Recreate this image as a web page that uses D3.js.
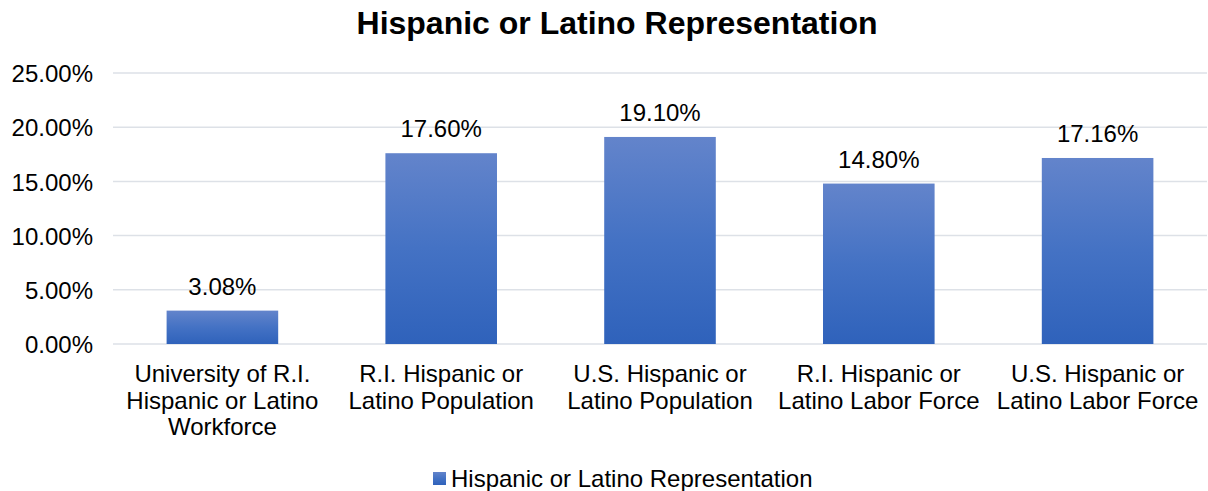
<!DOCTYPE html>
<html>
<head>
<meta charset="utf-8">
<script src="https://cdn.jsdelivr.net/npm/d3@7"></script>
<style>
  body { margin: 0; background: #fff; }
  svg { font-family: "Liberation Sans", Arial, sans-serif; }
</style>
</head>
<body>
<div id="chart"></div>
<script>
// chart data
var categories = [
  ["University of R.I.", "Hispanic or Latino", "Workforce"],
  ["R.I. Hispanic or", "Latino Population"],
  ["U.S. Hispanic or", "Latino Population"],
  ["R.I. Hispanic or", "Latino Labor Force"],
  ["U.S. Hispanic or", "Latino Labor Force"]
];
var values = [3.08, 17.60, 19.10, 14.80, 17.16];
var yTicks = [0, 5, 10, 15, 20, 25];
var seriesName = "Hispanic or Latino Representation";
var title = "Hispanic or Latino Representation";

var w = 1208, h = 491;
var margin = {top: 73, right: 1, bottom: 147, left: 113};
var fs = 24;

var svg = d3.select("#chart").append("svg")
  .attr("width", w)
  .attr("height", h);

var defs = svg.append("defs");
var grad = defs.append("linearGradient")
  .attr("id", "barGrad")
  .attr("x1", 0).attr("y1", 0).attr("x2", 0).attr("y2", 1);
grad.append("stop").attr("offset", "0%").attr("stop-color", "#6384cb");
grad.append("stop").attr("offset", "50%").attr("stop-color", "#4472c4");
grad.append("stop").attr("offset", "100%").attr("stop-color", "#2f62bb");

var x = d3.scaleBand()
  .domain(d3.range(values.length))
  .range([margin.left, w - margin.right])
  .paddingInner(0.49)
  .paddingOuter(0.245);

var y = d3.scaleLinear()
  .domain([0, 25])
  .range([h - margin.bottom, margin.top]);

// title
svg.append("text")
  .attr("x", 617)
  .attr("y", 34)
  .attr("text-anchor", "middle")
  .attr("font-size", 32)
  .attr("font-weight", "bold")
  .attr("fill", "#000")
  .text(title);

// gridlines
svg.append("g")
  .selectAll("line")
  .data(yTicks)
  .enter().append("line")
  .attr("x1", margin.left)
  .attr("x2", w - margin.right)
  .attr("y1", function(d) { return y(d); })
  .attr("y2", function(d) { return y(d); })
  .attr("stroke", "#dde1e7")
  .attr("stroke-width", 1.5);

// y axis labels
var yAxis = d3.axisLeft(y)
  .tickValues(yTicks)
  .tickSize(0)
  .tickPadding(0)
  .tickFormat(function(d) { return d.toFixed(2) + "%"; });

var yg = svg.append("g")
  .attr("transform", "translate(" + 93 + ",0)")
  .call(yAxis);
yg.select(".domain").remove();
yg.selectAll("text")
  .attr("font-size", fs)
  .attr("font-family", "Liberation Sans, Arial, sans-serif")
  .attr("fill", "#000")
  .attr("dy", "0.36em");

// bars
svg.append("g")
  .selectAll("rect")
  .data(values)
  .enter().append("rect")
  .attr("x", function(d, i) { return x(i); })
  .attr("width", x.bandwidth())
  .attr("y", function(d) { return y(d); })
  .attr("height", function(d) { return y(0) - y(d); })
  .attr("fill", "url(#barGrad)");

// data labels
svg.append("g")
  .selectAll("text")
  .data(values)
  .enter().append("text")
  .attr("x", function(d, i) { return x(i) + x.bandwidth() / 2; })
  .attr("y", function(d) { return y(d) - 16; })
  .attr("text-anchor", "middle")
  .attr("font-size", fs)
  .attr("fill", "#000")
  .text(function(d) { return d.toFixed(2) + "%"; });

// category labels
var cat = svg.append("g")
  .selectAll("text")
  .data(categories)
  .enter().append("text")
  .attr("x", function(d, i) { return x(i) + x.bandwidth() / 2; })
  .attr("y", 382)
  .attr("text-anchor", "middle")
  .attr("font-size", fs)
  .attr("fill", "#000");
cat.selectAll("tspan")
  .data(function(d) { return d; })
  .enter().append("tspan")
  .attr("x", function() { return d3.select(this.parentNode).attr("x"); })
  .attr("dy", function(d, i) { return i === 0 ? 0 : 26.5; })
  .text(function(d) { return d; });

// legend
var legend = svg.append("g");
legend.append("rect")
  .attr("x", 433)
  .attr("y", 472)
  .attr("width", 13)
  .attr("height", 13)
  .attr("fill", "url(#barGrad)");
legend.append("text")
  .attr("x", 451)
  .attr("y", 487)
  .attr("font-size", fs)
  .attr("fill", "#000")
  .text(seriesName);
</script>
</body>
</html>
